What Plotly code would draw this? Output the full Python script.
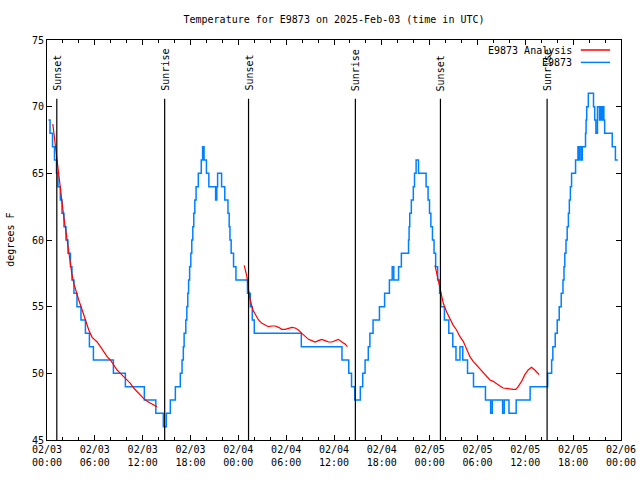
import pandas as pd
import plotly.graph_objects as go

BASE = pd.Timestamp("2025-02-03 00:00")

# Observations (E9873): hour offset from 2025-02-03 00:00 UTC where the reading changes, and the reading (deg F)
obs_hours = [0.19, 0.38, 0.69, 0.94, 1.19, 1.38, 1.67, 1.88, 2.13, 2.38, 2.63, 2.94, 3.13, 3.38, 3.76,
             4.26, 4.82, 5.32, 5.82, 8.33, 9.83, 12.21, 13.65, 14.59, 14.97,
             15.47, 16.1, 16.72, 16.94, 17.1, 17.2, 17.41, 17.54, 17.66, 17.76, 17.89, 18.04, 18.16, 18.29,
             18.41, 18.54, 18.7, 18.98, 19.35, 19.52, 19.7, 20.0, 20.3, 21.15, 21.3, 21.4, 21.9, 22.3, 22.7,
             22.85, 22.95, 23.1, 23.4, 23.7,
             25.15, 25.5, 25.75, 26.0, 31.9, 37.0, 37.85, 38.2, 38.6, 39.3,
             39.6, 39.9, 40.3, 40.5, 40.9, 41.7, 42.35, 42.95, 43.3, 43.5, 44.1, 44.45, 45.35, 45.42, 45.5,
             45.7, 45.95, 46.1, 46.3, 46.6, 47.55, 47.8, 47.98, 48.15, 48.35, 48.55, 48.75, 49.0, 49.25,
             49.4, 49.85, 50.4, 50.9, 51.3, 51.8, 52.15, 52.75, 53.5, 55.0, 55.65, 55.85, 57.15, 57.35,
             57.95, 58.85, 60.6,
             62.8, 63.3, 63.45, 63.75, 64.0, 64.25, 64.5, 64.72, 64.85, 64.95, 65.1, 65.25, 65.4, 65.52,
             65.65, 65.8, 66.3, 66.6, 66.72, 66.8, 67.0, 67.15, 67.55, 67.62, 67.7, 67.9, 68.55, 68.7,
             68.85, 69.05, 69.3, 69.4, 69.55, 69.7, 69.85, 69.95, 70.9, 71.3, 71.6]
obs_temps = [69, 68, 67, 66, 65, 64, 63, 62, 61, 60, 59, 58, 57, 56, 55,
             54, 53, 52, 51, 50, 49, 48, 47, 46, 47,
             48, 49, 50, 51, 52, 53, 54, 55, 56, 57, 58, 59, 60, 61,
             62, 63, 64, 65, 66, 67, 66, 65, 64, 63, 64, 65, 64, 63, 62,
             61, 60, 59, 58, 57,
             56, 55, 54, 53, 52, 51, 50, 49, 48, 49,
             50, 51, 52, 53, 54, 55, 56, 57, 58, 57, 58, 59, 60, 61, 62,
             63, 64, 65, 66, 65, 64, 63, 62, 61, 60, 59, 58, 57, 56,
             55, 54, 53, 52, 51, 52, 51, 50, 49, 48, 47, 48, 47, 48,
             47, 48, 49,
             50, 51, 52, 53, 54, 55, 56, 57, 58, 59, 60, 61, 62, 63,
             64, 65, 66, 67, 66, 67, 66, 67, 68, 69, 70, 71, 70, 69,
             68, 70, 69, 70, 69, 70, 69, 68, 67, 66, 66]

# Analysis (E9873 Analysis), three night-time segments
ana1_hours = [0.73, 1.06, 1.35, 1.6, 1.85, 2.1, 2.35, 2.61, 2.86, 3.11, 3.36, 3.7, 3.98, 4.41, 4.82,
              5.24, 5.66, 6.29, 6.7, 7.12, 7.54, 7.95, 8.37, 8.79, 9.21, 9.62, 10.05, 10.46, 10.87,
              11.3, 11.71, 12.13, 12.55, 12.97, 13.38, 13.8]
ana1_temps = [68.7, 67.0, 65.4, 64.0, 63.0, 61.75, 60.75, 59.5, 58.5, 57.5, 56.75, 56.0, 55.5, 54.75, 54.0,
              53.25, 52.7, 52.35, 52.0, 51.6, 51.25, 51.0, 50.6, 50.25, 50.0, 49.75, 49.5, 49.25, 48.9,
              48.6, 48.4, 48.1, 47.9, 47.75, 47.6, 47.5]
ana2_hours = [24.74, 25.08, 25.28, 25.49, 25.83, 26.12, 26.53, 26.96, 27.37, 27.78, 28.21, 28.62, 29.04,
              29.46, 29.88, 30.29, 30.72, 31.13, 31.54, 31.97, 32.38, 32.8, 33.22, 33.63, 34.05, 34.47,
              34.89, 35.3, 35.72, 36.14, 36.55, 36.98, 37.39, 37.68]
ana2_temps = [58.1, 57.25, 56.25, 55.5, 54.75, 54.4, 54.0, 53.75, 53.6, 53.5, 53.55, 53.55, 53.45,
              53.3, 53.3, 53.4, 53.45, 53.4, 53.25, 53.0, 52.75, 52.55, 52.45, 52.35, 52.45, 52.55,
              52.45, 52.35, 52.35, 52.45, 52.55, 52.35, 52.2, 52.0]
ana3_hours = [48.67, 48.88, 49.2, 49.5, 49.71, 50.13, 50.55, 50.96, 51.38, 51.8, 52.21, 52.64, 53.05,
              53.46, 53.89, 54.3, 54.72, 55.14, 55.56, 55.97, 56.39, 56.81, 57.22, 57.65, 58.06, 58.47,
              58.81, 59.1, 59.53, 59.94, 60.35, 60.78, 61.19, 61.48, 61.73]
ana3_temps = [58.1, 57.5, 56.75, 55.75, 55.25, 54.6, 54.1, 53.6, 53.25, 52.75, 52.4, 51.75, 51.25,
              50.9, 50.6, 50.4, 50.1, 49.75, 49.5, 49.4, 49.2, 49.05, 48.9, 48.85, 48.85, 48.8,
              48.8, 49.0, 49.4, 49.9, 50.25, 50.45, 50.25, 50.1, 49.9]

sun_event_hours = [1.23, 14.76, 25.28, 38.68, 49.35, 62.73]
sun_event_labels = ["Sunset", "Sunrise", "Sunset", "Sunrise", "Sunset", "Sunrise"]

x_tick_hours = [0, 6, 12, 18, 24, 30, 36, 42, 48, 54, 60, 66, 72]
x_tick_labels = ["02/03<br>00:00", "02/03<br>06:00", "02/03<br>12:00", "02/03<br>18:00",
                 "02/04<br>00:00", "02/04<br>06:00", "02/04<br>12:00", "02/04<br>18:00",
                 "02/05<br>00:00", "02/05<br>06:00", "02/05<br>12:00", "02/05<br>18:00",
                 "02/06<br>00:00"]
y_tick_vals = [45, 50, 55, 60, 65, 70, 75]

title_text = "Temperature for E9873 on 2025-Feb-03 (time in UTC)"
y_title = "degrees F"
legend_names = ["E9873 Analysis", "E9873"]

RED = "#ff0000"
BLUE = "#0080ff"
FONT = "DejaVu Sans Mono"


def to_time(hours):
    return [BASE + pd.Timedelta(hours=h) for h in hours]


ana_x, ana_y = [], []
for hs, ts in [(ana1_hours, ana1_temps), (ana2_hours, ana2_temps), (ana3_hours, ana3_temps)]:
    if ana_x:
        ana_x.append(None)
        ana_y.append(None)
    ana_x += to_time(hs)
    ana_y += ts

fig = go.Figure()
fig.add_trace(go.Scatter(x=to_time(obs_hours), y=obs_temps, mode="lines", name=legend_names[1],
                         line=dict(color=BLUE, width=1.5, shape="hv"), showlegend=False))
fig.add_trace(go.Scatter(x=ana_x, y=ana_y, mode="lines", name=legend_names[0],
                         line=dict(color=RED, width=1.2), connectgaps=False, showlegend=False))

for h, lab in zip(sun_event_hours, sun_event_labels):
    t = BASE + pd.Timedelta(hours=h)
    fig.add_shape(type="line", xref="x", yref="y", x0=t, x1=t, y0=45, y1=70.6,
                  line=dict(color="black", width=1.2))
    fig.add_annotation(x=t, y=71.1, xref="x", yref="y", text=lab, textangle=-90, showarrow=False,
                       xanchor="center", yanchor="bottom", borderpad=0,
                       font=dict(family=FONT, size=10, color="black"))

# gnuplot-style key: text then line sample
for i, (name, col) in enumerate(zip(legend_names, [RED, BLUE])):
    yp = 0.975 - i * 0.031
    fig.add_annotation(x=0.918, y=yp, xref="paper", yref="paper", text=name, showarrow=False,
                       xanchor="right", yanchor="middle", font=dict(family=FONT, size=10, color="black"))
    fig.add_shape(type="line", xref="paper", yref="paper", x0=0.930, x1=0.981, y0=yp, y1=yp,
                  line=dict(color=col, width=1.5))

fig.add_annotation(x=-0.065, y=0.5, xref="paper", yref="paper", text=y_title, textangle=-90,
                   showarrow=False, xanchor="center", yanchor="middle",
                   font=dict(family=FONT, size=10, color="black"))

fig.update_layout(
    width=640, height=480,
    margin=dict(l=47, r=19, t=40, b=40, autoexpand=False),
    paper_bgcolor="white", plot_bgcolor="white",
    font=dict(family=FONT, size=10, color="black"),
    title=dict(text=title_text, x=0.5, xref="paper", xanchor="center",
               y=1 - 19 / 480, yref="container", yanchor="middle",
               font=dict(family=FONT, size=10, color="black")),
    showlegend=False,
)
fig.update_xaxes(
    automargin=False,
    range=[BASE, BASE + pd.Timedelta(hours=72)],
    tickmode="array", tickvals=to_time(x_tick_hours), ticktext=x_tick_labels,
    ticks="inside", ticklen=5, tickcolor="black", tickwidth=1,
    showline=True, linecolor="black", linewidth=1, mirror="allticks",
    showgrid=False, zeroline=False,
    minor=dict(ticks="inside", ticklen=3, tickcolor="black", dtick=2 * 3600 * 1000,
               tick0=BASE, showgrid=False),
    tickfont=dict(family=FONT, size=10, color="black"),
)
fig.update_yaxes(
    automargin=False,
    range=[45, 75], tickmode="array", tickvals=y_tick_vals,
    ticks="inside", ticklen=5, tickcolor="black", tickwidth=1,
    showline=True, linecolor="black", linewidth=1, mirror="allticks",
    showgrid=False, zeroline=False,
    tickfont=dict(family=FONT, size=10, color="black"),
)

fig.write_html("out.html", config={"displayModeBar": False},
               post_script="document.body.style.margin='0';")
